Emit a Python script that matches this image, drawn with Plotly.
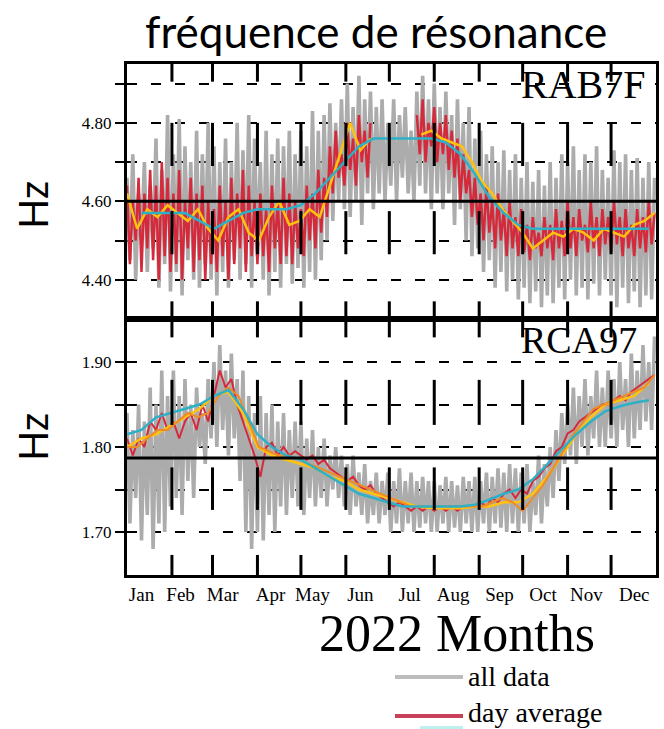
import plotly.graph_objects as go

# ---------------- data ----------------
months = ["Jan", "Feb", "Mar", "Apr", "May", "Jun", "Jul", "Aug", "Sep", "Oct", "Nov", "Dec"]
month_start = [0, 31, 59, 90, 120, 151, 181, 212, 243, 273, 304, 334, 365]
month_label_day = [10, 37, 66, 99, 128, 161, 195, 225, 257, 287, 317, 350]

# RAB7F (top panel), Hz
rab_ticks = [4.40, 4.50, 4.60, 4.70, 4.80, 4.90]
rab_ticktext = ["4.40", "", "4.60", "", "4.80", ""]
rab_ref = 4.60
# all data: peaks every 4 days (day 0,4,...) and troughs (day 2,6,...)
rab_all_hi = [4.66, 4.72, 4.62, 4.70, 4.64, 4.76, 4.68, 4.82,
              4.72, 4.81, 4.74, 4.70, 4.78, 4.72, 4.80,
              4.74, 4.70, 4.76, 4.70, 4.80, 4.73, 4.82, 4.76,
              4.70, 4.78, 4.72, 4.76, 4.74, 4.78, 4.72,
              4.78, 4.74, 4.83, 4.78, 4.82, 4.85, 4.80, 4.86,
              4.90, 4.84, 4.92, 4.86, 4.88, 4.84, 4.86,
              4.80, 4.86, 4.82, 4.84, 4.78, 4.88, 4.92, 4.86,
              4.90, 4.84, 4.88, 4.82, 4.86, 4.80, 4.84,
              4.76, 4.78, 4.72, 4.74, 4.70, 4.73, 4.68, 4.72,
              4.66, 4.70, 4.65, 4.68, 4.64, 4.70, 4.66, 4.72,
              4.70, 4.74, 4.68, 4.72, 4.70, 4.74, 4.68,
              4.66, 4.73, 4.70, 4.72, 4.68, 4.71, 4.66, 4.70, 4.66]
rab_all_lo = [4.45, 4.40, 4.50, 4.42, 4.48, 4.38, 4.44, 4.37,
              4.42, 4.36, 4.45, 4.40, 4.38, 4.44, 4.40,
              4.36, 4.42, 4.38, 4.45, 4.40, 4.44, 4.38, 4.46,
              4.40, 4.36, 4.42, 4.38, 4.44, 4.39, 4.43,
              4.38, 4.42, 4.40, 4.45, 4.50, 4.55, 4.60, 4.58,
              4.56, 4.60, 4.54, 4.62, 4.58, 4.62, 4.60,
              4.64, 4.60, 4.66, 4.62, 4.60, 4.64, 4.62, 4.58,
              4.62, 4.58, 4.62, 4.54, 4.58, 4.50, 4.46,
              4.48, 4.42, 4.45, 4.38, 4.42, 4.37, 4.40, 4.35,
              4.38, 4.34, 4.37, 4.33, 4.36, 4.34, 4.38, 4.35,
              4.40, 4.36, 4.38, 4.35, 4.39, 4.36, 4.40,
              4.36, 4.33, 4.38, 4.34, 4.37, 4.33, 4.36, 4.35]
# day average: highs (day 0,4,...) and lows (day 2,6,...)
rab_day_hi = [4.64, 4.60, 4.66, 4.62, 4.68, 4.64, 4.70, 4.66,
              4.62, 4.68, 4.60, 4.66, 4.62, 4.64, 4.60,
              4.58, 4.64, 4.60, 4.66, 4.62, 4.68, 4.64, 4.60,
              4.62, 4.58, 4.64, 4.60, 4.66, 4.62, 4.60,
              4.58, 4.64, 4.62, 4.68, 4.66, 4.74, 4.78, 4.72,
              4.80, 4.76, 4.82, 4.78, 4.80, None, None,
              None, None, None, None, None, 4.82, 4.86, 4.80,
              4.84, 4.80, 4.82, 4.78, 4.76, 4.72, 4.68,
              4.66, 4.62, 4.64, 4.60, 4.62, 4.58, 4.60, 4.56,
              4.58, 4.54, 4.56, 4.52, 4.56, 4.54, 4.58, 4.55,
              4.60, 4.56, 4.58, 4.54, 4.60, 4.56, 4.58,
              4.56, 4.60, 4.56, 4.58, 4.54, 4.58, 4.56, 4.60, 4.57]
rab_day_lo = [4.44, 4.50, 4.42, 4.48, 4.45, 4.40, 4.46, 4.42,
              4.44, 4.40, 4.48, 4.42, 4.45, 4.40, 4.44,
              4.42, 4.46, 4.40, 4.44, 4.48, 4.42, 4.46, 4.44,
              4.46, 4.42, 4.48, 4.44, 4.46, 4.44, 4.48,
              4.46, 4.50, 4.48, 4.52, 4.56, 4.62, 4.66, 4.64,
              4.68, 4.64, 4.70, 4.66, None, None, None,
              None, None, None, None, None, 4.72, 4.70, 4.74,
              4.70, 4.72, 4.68, 4.66, 4.60, 4.62, 4.56,
              4.54, 4.50, 4.52, 4.48, 4.50, 4.46, 4.48, 4.46,
              4.47, 4.45, 4.48, 4.46, 4.48, 4.45, 4.48, 4.46,
              4.48, 4.46, 4.50, 4.47, 4.48, 4.46, 4.49,
              4.47, 4.49, 4.46, 4.48, 4.46, 4.48, 4.47, 4.49]
# weekly average (every 7 days)
rab_week = [4.62, 4.53, 4.58, 4.56, 4.59, 4.57, 4.55, 4.58, 4.53, 4.50,
            4.56, 4.58, 4.52, 4.50, 4.56, 4.60, 4.54, 4.55, 4.58, 4.56,
            4.64, 4.72, 4.80, 4.73, 4.76, None, None, None, None, 4.77,
            4.78, 4.76, 4.75, 4.74, 4.70, 4.65, 4.62, 4.58, 4.55, 4.52,
            4.48, 4.50, 4.52, 4.51, 4.53, 4.52, 4.50, 4.53, 4.52, 4.51,
            4.54, 4.55, 4.57]
# monthly average (every 10 days from day 10)
rab_month = [4.57, 4.57, 4.57, 4.57, 4.55, 4.53, 4.55, 4.57, 4.58, 4.58,
             4.58, 4.59, 4.62, 4.66, 4.70, 4.74, 4.76, 4.76, 4.76, 4.76,
             4.76, 4.75, 4.72, 4.67, 4.61, 4.57, 4.54, 4.53, 4.53, 4.53,
             4.53, 4.53, 4.53, 4.53, 4.53, 4.53]

# RCA97 (bottom panel), Hz
rca_ticks = [1.70, 1.75, 1.80, 1.85, 1.90]
rca_ticktext = ["1.70", "", "1.80", "", "1.90"]
rca_ref = 1.787
rca_all_hi = [1.84, 1.82, 1.85, 1.83, 1.87, 1.85, 1.89, 1.86,
              1.89, 1.86, 1.88, 1.85, 1.87, 1.84, 1.88,
              1.90, 1.92, 1.89, 1.91, 1.88, 1.89, 1.86, 1.84,
              1.86, 1.84, 1.85, 1.83, 1.84, 1.82, 1.83,
              1.83, 1.81, 1.82, 1.80, 1.81, 1.79, 1.80, 1.79,
              1.78, 1.79, 1.77, 1.78, 1.76, 1.77, 1.76,
              1.77, 1.76, 1.775, 1.76, 1.77, 1.76, 1.765, 1.76,
              1.76, 1.755, 1.765, 1.76, 1.755, 1.765, 1.76,
              1.765, 1.76, 1.77, 1.765, 1.775, 1.77, 1.78, 1.775,
              1.77, 1.78, 1.76, 1.79, 1.78, 1.80, 1.82, 1.84,
              1.85, 1.87, 1.86, 1.88, 1.86, 1.89, 1.87,
              1.89, 1.88, 1.90, 1.88, 1.91, 1.89, 1.92, 1.90, 1.93]
rca_all_lo = [1.71, 1.74, 1.69, 1.72, 1.68, 1.71, 1.70, 1.73,
              1.74, 1.72, 1.76, 1.74, 1.80, 1.78, 1.81,
              1.80, 1.82, 1.79, 1.81, 1.76, 1.70, 1.68, 1.70,
              1.69, 1.72, 1.70, 1.73, 1.72, 1.74, 1.73,
              1.72, 1.74, 1.73, 1.74, 1.73, 1.75, 1.74, 1.73,
              1.72, 1.73, 1.72, 1.71, 1.72, 1.71, 1.72,
              1.70, 1.71, 1.70, 1.71, 1.70, 1.705, 1.71, 1.70,
              1.70, 1.71, 1.70, 1.705, 1.70, 1.71, 1.70,
              1.70, 1.71, 1.70, 1.71, 1.705, 1.70, 1.71, 1.70,
              1.71, 1.70, 1.72, 1.71, 1.73, 1.74, 1.76, 1.78,
              1.79, 1.78, 1.80, 1.79, 1.81, 1.80, 1.80,
              1.81, 1.80, 1.82, 1.80, 1.81, 1.82, 1.83, 1.82]
# day average (every 4 days)
rca_day = [1.81, 1.79, 1.81, 1.80, 1.83, 1.82, 1.84, 1.82,
           1.83, 1.81, 1.83, 1.84, 1.82, 1.85, 1.83,
           1.86, 1.89, 1.87, 1.88, 1.85, 1.83, 1.81, 1.79,
           1.765, 1.80, 1.805, 1.79, 1.80, 1.79, 1.795,
           1.79, 1.785, 1.79, 1.78, 1.785, 1.775, 1.77, 1.765,
           1.76, 1.765, 1.755, 1.75, 1.755, 1.745, 1.74,
           1.735, 1.73, 1.735, 1.73, 1.725, 1.73, 1.725, 1.73,
           1.725, 1.73, 1.725, 1.73, 1.725, 1.73, 1.73,
           1.73, 1.735, 1.73, 1.74, 1.735, 1.745, 1.75, 1.74,
           1.75, 1.745, 1.76, 1.765, 1.775, 1.78, 1.795, 1.80,
           1.816, 1.82, 1.83, 1.835, 1.84, 1.845, 1.85,
           1.85, 1.855, 1.86, 1.855, 1.865, 1.87, 1.875, 1.88, 1.885]
# weekly average (every 7 days)
rca_week = [1.80, 1.80, 1.81, 1.82, 1.82,
            1.83, 1.84, 1.835, 1.84,
            1.86, 1.87, 1.86, 1.83,
            1.80, 1.795, 1.79, 1.79, 1.785,
            1.78, 1.775, 1.77, 1.765, 1.76, 1.755, 1.75, 1.745,
            1.74, 1.735, 1.73, 1.73, 1.73, 1.73, 1.73, 1.73, 1.73,
            1.73, 1.735, 1.74, 1.735, 1.725, 1.74, 1.755, 1.775, 1.795,
            1.815, 1.83, 1.845, 1.85, 1.855, 1.86, 1.865, 1.87, 1.885]
# 10-day average (every 10 days from day 0)
rca_dec = [1.80, 1.81, 1.815, 1.825, 1.835, 1.845, 1.86, 1.865, 1.84, 1.80,
           1.79, 1.785, 1.78, 1.775, 1.765, 1.76, 1.75, 1.745, 1.74, 1.735,
           1.73, 1.728, 1.728, 1.728, 1.73, 1.73, 1.735, 1.735, 1.745, 1.765,
           1.79, 1.815, 1.835, 1.85, 1.855, 1.86, 1.875]
# monthly average (every 10 days from day 0)
rca_month = [1.815, 1.82, 1.835, 1.84, 1.845, 1.85, 1.86, 1.867, 1.845, 1.815,
             1.80, 1.79, 1.785, 1.775, 1.765, 1.755, 1.745, 1.74, 1.735, 1.73,
             1.73, 1.73, 1.73, 1.73, 1.732, 1.738, 1.745, 1.75, 1.762, 1.78,
             1.797, 1.815, 1.83, 1.842, 1.848, 1.852, 1.855]

# ---------------- style ----------------
GRAY = "#acacac"
RED = "#d42a3c"
YELLOW = "#ffc20e"
ORANGE = "#f08a24"
CYAN = "#2eb0c6"
SERIF = "Liberation Serif"
SANS = "Lato"

W, H = 664, 729


def fx(px):
    return px / W


def fy(py):
    return 1 - py / H


def zig(hi, lo, step):
    xs, ys = [], []
    for i, v in enumerate(hi):
        xs.append(i * step)
        ys.append(v)
        if i < len(lo):
            xs.append(i * step + step / 2)
            ys.append(lo[i])
    return xs, ys


def steps(vals, step, start=0):
    return [start + i * step for i in range(len(vals))]


fig = go.Figure()

# top panel traces
x, y = zig(rab_all_hi, rab_all_lo, 4)
fig.add_trace(go.Scatter(x=x, y=y, mode="lines", name="all data",
                         line=dict(color=GRAY, width=3.6), xaxis="x", yaxis="y"))
x, y = zig(rab_day_hi, rab_day_lo, 4)
fig.add_trace(go.Scatter(x=x, y=y, mode="lines", name="day average",
                         line=dict(color=RED, width=2.5), xaxis="x", yaxis="y"))
fig.add_trace(go.Scatter(x=steps(rab_week, 7), y=rab_week, mode="lines", name="week average",
                         line=dict(color=YELLOW, width=2.5), xaxis="x", yaxis="y"))
fig.add_trace(go.Scatter(x=steps(rab_month, 10, 10), y=rab_month, mode="lines", name="month average",
                         line=dict(color=CYAN, width=2.5), xaxis="x", yaxis="y"))

# bottom panel traces
x, y = zig(rca_all_hi, rca_all_lo, 4)
fig.add_trace(go.Scatter(x=x, y=y, mode="lines", name="all data",
                         line=dict(color=GRAY, width=3.6), xaxis="x2", yaxis="y2"))
fig.add_trace(go.Scatter(x=steps(rca_day, 4), y=rca_day, mode="lines", name="day average",
                         line=dict(color=RED, width=2), xaxis="x2", yaxis="y2"))
fig.add_trace(go.Scatter(x=steps(rca_dec, 10), y=rca_dec, mode="lines", name="10-day average",
                         line=dict(color=YELLOW, width=2.5), xaxis="x2", yaxis="y2"))
fig.add_trace(go.Scatter(x=steps(rca_week, 7), y=rca_week, mode="lines", name="week average",
                         line=dict(color=ORANGE, width=2), xaxis="x2", yaxis="y2"))
fig.add_trace(go.Scatter(x=steps(rca_month, 10), y=rca_month, mode="lines", name="month average",
                         line=dict(color=CYAN, width=2.5), xaxis="x2", yaxis="y2"))

common_x = dict(range=[0, 365], showgrid=False, zeroline=False, showline=True,
                linecolor="black", linewidth=3, mirror=True, ticks="")
common_y = dict(showgrid=True, gridcolor="black", gridwidth=2, griddash="10px,14px",
                ticks="outside", ticklen=9, tickwidth=2, tickcolor="black",
                showline=True, linecolor="black", linewidth=3, mirror=True,
                zeroline=False, tickfont=dict(family=SERIF, size=17, color="black"))

fig.update_layout(
    width=W, height=H, margin=dict(l=0, r=0, t=0, b=0),
    paper_bgcolor="white", plot_bgcolor="white", showlegend=False,
    xaxis=dict(domain=[fx(127), fx(656)], anchor="y", showticklabels=False, **common_x),
    xaxis2=dict(domain=[fx(127), fx(656)], anchor="y2", tickvals=month_label_day, ticktext=months,
                tickfont=dict(family=SERIF, size=19, color="black"), **common_x),
    yaxis=dict(domain=[fy(319), fy(64)], range=[4.30, 4.95], anchor="x",
               tickvals=rab_ticks, ticktext=rab_ticktext, **common_y),
    yaxis2=dict(domain=[fy(575), fy(319)], range=[1.6494, 1.9506], anchor="x2",
                tickvals=rca_ticks, ticktext=rca_ticktext, **common_y),
)

shapes = []
# reference lines
shapes.append(dict(type="line", xref="x", yref="y", x0=0, x1=365, y0=rab_ref, y1=rab_ref,
                   line=dict(color="black", width=3), layer="above"))
shapes.append(dict(type="line", xref="x2", yref="y2", x0=0, x1=365, y0=rca_ref, y1=rca_ref,
                   line=dict(color="black", width=3), layer="above"))
# month boundary tick crosses
top_cross = [(4.905, 4.95), (4.69, 4.80), (4.465, 4.575), (4.30, 4.345)]
bot_cross = [(1.929, 1.9506), (1.826, 1.879), (1.726, 1.776), (1.6494, 1.673)]
for d in month_start[1:12]:
    for y0, y1 in top_cross:
        shapes.append(dict(type="line", xref="x", yref="y", x0=d, x1=d, y0=y0, y1=y1,
                           line=dict(color="black", width=3), layer="above"))
    for y0, y1 in bot_cross:
        shapes.append(dict(type="line", xref="x2", yref="y2", x0=d, x1=d, y0=y0, y1=y1,
                           line=dict(color="black", width=3), layer="above"))
# manual legend samples
shapes.append(dict(type="line", xref="paper", yref="paper", x0=fx(395), x1=fx(463),
                   y0=fy(677), y1=fy(677), line=dict(color="#bdbdbd", width=4)))
shapes.append(dict(type="line", xref="paper", yref="paper", x0=fx(395), x1=fx(463),
                   y0=fy(716), y1=fy(716), line=dict(color="#c8405a", width=4)))
shapes.append(dict(type="line", xref="paper", yref="paper", x0=fx(420), x1=fx(463),
                   y0=fy(728), y1=fy(728), line=dict(color="#bff0f0", width=4)))
fig.update_layout(shapes=shapes)

ann = [
    dict(text="fréquence de résonance", x=fx(376), y=fy(31), font=dict(family=SANS, size=44, color="black")),
    dict(text="Hz", x=fx(33), y=fy(205), textangle=-90, font=dict(family=SANS, size=40, color="black")),
    dict(text="Hz", x=fx(33), y=fy(437), textangle=-90, font=dict(family=SANS, size=40, color="black")),
    dict(text="RAB7F", x=fx(648), y=fy(84), xanchor="right",
         font=dict(family=SERIF, size=40, color="black")),
    dict(text="RCA97", x=fx(639), y=fy(340), xanchor="right",
         font=dict(family=SERIF, size=38, color="black")),
    dict(text="2022 Months", x=fx(457), y=fy(633), font=dict(family=SERIF, size=52, color="black")),
    dict(text="all data", x=fx(466), y=fy(676), xanchor="left",
         font=dict(family=SERIF, size=28, color="black")),
    dict(text="day average", x=fx(466), y=fy(712), xanchor="left",
         font=dict(family=SERIF, size=28, color="black")),
]
for a in ann:
    a.setdefault("xanchor", "center")
    a.setdefault("yanchor", "middle")
    a.update(xref="paper", yref="paper", showarrow=False)
fig.update_layout(annotations=ann)

fig.write_html("out.html")
